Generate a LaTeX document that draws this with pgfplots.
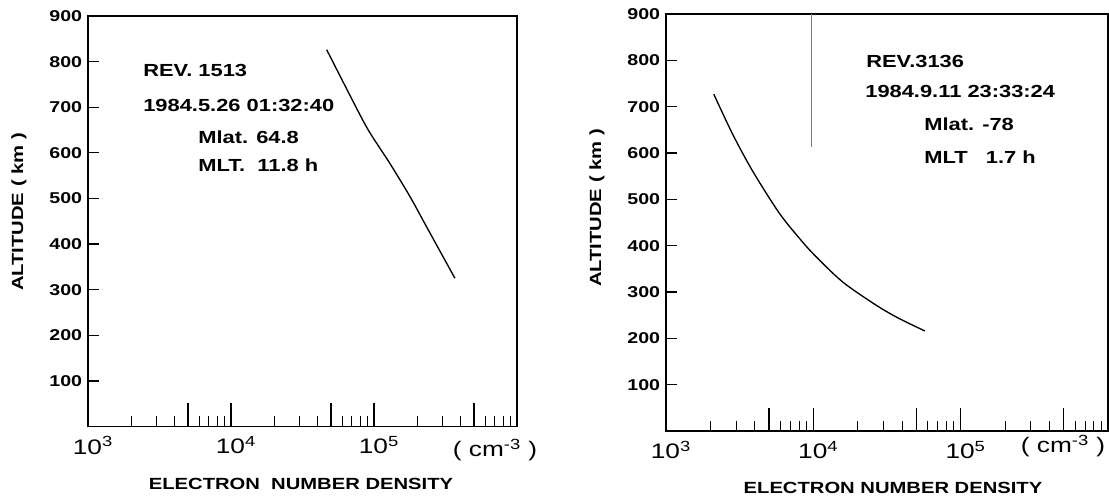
\documentclass[border=0pt]{standalone}
\usepackage{fontspec}
\setmainfont{Liberation Sans}[FakeStretch=1.25]
\usepackage{pgfplots}
\pgfplotsset{compat=1.18}

\begin{document}
\begin{tikzpicture}[x=0.6pt,y=0.6pt]
\useasboundingbox (0,0) rectangle (1109,496);

\begin{axis}[xmode=log, scale only axis,
  at={(52.8pt,41.7pt)}, anchor=south west,
  width=257.4pt, height=246.3pt,
  xmin=1e3, xmax=1e6, ymin=0, ymax=900,
  axis line style={line width=0.9pt},
  tick align=inside, tick pos=left,
  xtick={1e3,1e4,1e5},
  xticklabels={10\textsuperscript{3},10\textsuperscript{4},10\textsuperscript{5}},
  minor xtick={2e3,3e3,4e3,6e3,7e3,8e3,9e3,2e4,3e4,4e4,6e4,7e4,8e4,9e4,2e5,3e5,4e5,6e5,7e5,8e5,9e5},
  extra x ticks={5e3,1e4,5e4,1e5,5e5}, extra x tick labels={},
  extra x tick style={major tick length=14pt},
  ytick={100,200,300,400,500,600,700,800,900},
  yticklabels={100,200,300,400,500,600,700,800,900},
  major tick length=6.6pt, minor tick length=6pt,
  tick style={black, line width=0.8pt},
  minor tick style={line width=0.6pt},
  yticklabel style={font=\fontsize{9.4}{10}\selectfont\bfseries},
  xticklabel style={font=\fontsize{12.6}{13}\selectfont, yshift=-2.5pt, xshift=3pt}]
\addplot[black, line width=0.8pt, smooth] coordinates {
(46700,826) (67900,726) (91200,650) (129000,577) (178600,504) (233000,438) (368000,325)};
\end{axis}

\begin{axis}[xmode=log, scale only axis,
  at={(399.6pt,39pt)}, anchor=south west,
  width=265.2pt, height=250.2pt,
  xmin=1e3, xmax=1e6, ymin=0, ymax=900,
  axis line style={line width=0.9pt},
  tick align=inside, tick pos=left,
  xtick={1e3,1e4,1e5},
  xticklabels={10\textsuperscript{3},10\textsuperscript{4},10\textsuperscript{5}},
  minor xtick={2e3,3e3,4e3,6e3,7e3,8e3,9e3,2e4,3e4,4e4,6e4,7e4,8e4,9e4,2e5,3e5,4e5,6e5,7e5,8e5,9e5},
  extra x ticks={5e3,1e4,5e4,1e5,5e5}, extra x tick labels={},
  extra x tick style={major tick length=14pt},
  ytick={100,200,300,400,500,600,700,800,900},
  yticklabels={100,200,300,400,500,600,700,800,900},
  major tick length=6.6pt, minor tick length=6pt,
  tick style={black, line width=0.8pt},
  minor tick style={line width=0.6pt},
  yticklabel style={font=\fontsize{9.4}{10}\selectfont\bfseries},
  xticklabel style={font=\fontsize{12.6}{13}\selectfont, yshift=-2.5pt, xshift=3pt}]
\addplot[black, line width=0.8pt, smooth] coordinates {
(2110,727) (2850,639) (3890,560) (5850,471) (8040,416) (10160,380) (15770,322) (26550,272) (38100,243) (57100,216)};
\addplot[black!50, line width=0.45pt] coordinates {(9650,900) (9650,614)};
\end{axis}

\begin{scope}[every node/.style={inner sep=0pt, font=\fontsize{10.5}{12}\selectfont\bfseries}]
\node[anchor=base west] at (143,{496-77}) {REV. 1513};
\node[anchor=base west] at (143,{496-112}) {1984.5.26 01:32:40};
\node[anchor=base west] at (198,{496-144}) {Mlat. 64.8};
\node[anchor=base west] at (198,{496-172}) {MLT.\ \ 11.8 h};

\node[anchor=base west] at (866,{496-68}) {REV.3136};
\node[anchor=base west] at (865,{496-98}) {1984.9.11 23:33:24};
\node[anchor=base west] at (924,{496-131}) {Mlat. -78};
\node[anchor=base west] at (924,{496-164}) {MLT\ \ \ 1.7 h};
\end{scope}

\begin{scope}[every node/.style={inner sep=0pt, font=\fontsize{9.7}{12}\selectfont\bfseries}]
\node at (301,{496-484}) {ELECTRON\ \ NUMBER DENSITY};
\node at (893,{496-488}) {ELECTRON NUMBER DENSITY};
\node[rotate=90] at (19,{496-212}) {ALTITUDE ( km )};
\node[rotate=90] at (597,{496-208}) {ALTITUDE ( km )};
\end{scope}

\begin{scope}[every node/.style={inner sep=0pt, font=\fontsize{12.6}{13}\selectfont}]
\node at (495,{496-450}) {( cm\textsuperscript{-3} )};
\node at (1063,{496-446}) {( cm\textsuperscript{-3} )};
\end{scope}
\end{tikzpicture}
\end{document}
